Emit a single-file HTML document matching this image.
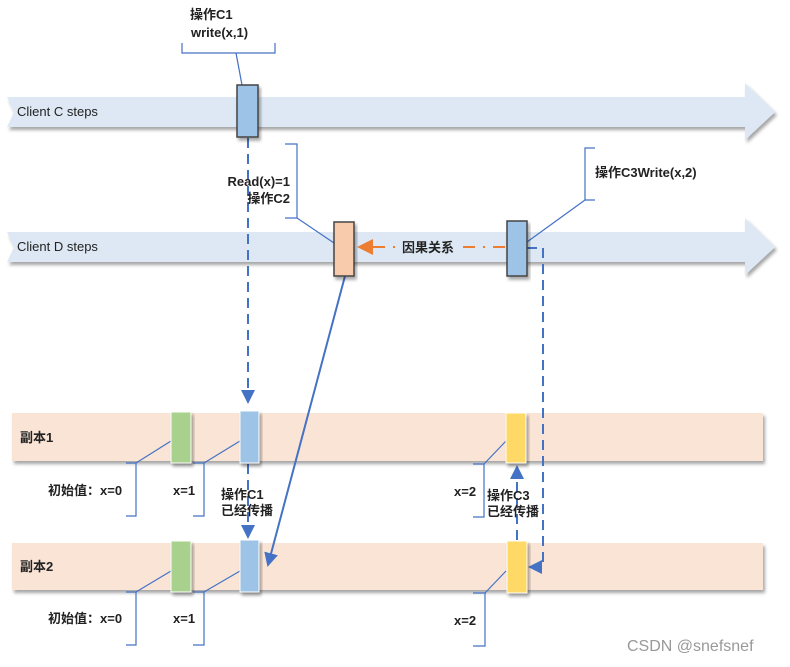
<!DOCTYPE html>
<html><head><meta charset="utf-8"><style>
body{margin:0;background:#fff;}
svg text{font-family:"Liberation Sans","Noto Sans CJK SC",sans-serif;}
</style></head><body>
<svg width="790" height="662" viewBox="0 0 790 662" xmlns="http://www.w3.org/2000/svg">
<defs>
<filter id="sh" x="-10%" y="-20%" width="130%" height="160%"><feDropShadow dx="2" dy="3" stdDeviation="1.5" flood-color="#000" flood-opacity="0.35"/></filter>
<marker id="ab" markerWidth="14" markerHeight="14" refX="12" refY="7" orient="auto" markerUnits="userSpaceOnUse" viewBox="0 0 14 14"><path d="M0,0 L14,7 L0,14z" fill="#4472c4"/></marker>
</defs>
<path d="M7,97 L745,97 L745,83 L775,112 L745,140 L745,127 L7,127 L14,112z" fill="#dde8f4" filter="url(#sh)"/>
<path d="M7,232 L745,232 L745,218 L775,247 L745,275 L745,262 L7,262 L14,247z" fill="#dde8f4" filter="url(#sh)"/>
<text x="17" y="116" font-size="13" fill="#222">Client C steps</text>
<text x="17" y="251" font-size="13" fill="#222">Client D steps</text>
<rect x="12" y="413" width="751" height="48" fill="#f9e4d6" filter="url(#sh)"/>
<rect x="12" y="543" width="751" height="47" fill="#f9e4d6" filter="url(#sh)"/>
<text x="20" y="442" font-size="13" font-weight="bold" fill="#222">副本1</text>
<text x="20" y="571" font-size="13" font-weight="bold" fill="#222">副本2</text>
<g stroke="#4472c4" fill="none" stroke-width="1.2">
<path d="M182,43 V53 H275 V43"/><path d="M236,53 L242,85"/>
<path d="M285,144 H297 V218 H285"/><path d="M297,218 L334,243"/>
<path d="M595,148 H585 V200 H595"/><path d="M585,200 L527,242"/>
<path d="M126,463 H136 V516 H126"/><path d="M136,463 L171,441"/>
<path d="M193,463 H204 V516 H193"/><path d="M204,463 L240,441"/>
<path d="M473,464 H484 V517 H473"/><path d="M484,464 L506,441"/>
<path d="M126,592 H136 V645 H126"/><path d="M136,592 L171,571"/>
<path d="M193,592 H204 V645 H193"/><path d="M204,592 L240,571"/>
<path d="M473,593 H485 V646 H473"/><path d="M485,593 L506,571"/>
</g>
<g stroke="#4472c4" stroke-width="2" fill="none" stroke-dasharray="10,6">
<path d="M248,138 V402" marker-end="url(#ab)"/>
<path d="M248,464 V537" marker-end="url(#ab)"/>
<path d="M527,248 H543 V567 H530" marker-end="url(#ab)"/>
<path d="M517,540 V467" marker-end="url(#ab)"/>
</g>
<path d="M345,276 L268,565" stroke="#4472c4" stroke-width="2" marker-end="url(#ab)"/>
<path d="M505,247 H372" stroke="#ed7d31" stroke-width="2" stroke-dasharray="12,8,2,8"/>
<path d="M357,247 L373,239 L373,255z" fill="#ed7d31"/>
<rect x="400" y="239" width="60" height="16" fill="#dde8f4"/>
<text x="402" y="252" font-size="13" font-weight="bold" fill="#222">因果关系</text>
<rect x="237" y="85" width="21" height="52" fill="#9dc3e6" stroke="#444" stroke-width="1.5" filter="url(#sh)"/>
<rect x="334" y="222" width="20" height="54" fill="#f8cbad" stroke="#444" stroke-width="1.5" filter="url(#sh)"/>
<rect x="507" y="221" width="20" height="55" fill="#9dc3e6" stroke="#444" stroke-width="1.5" filter="url(#sh)"/>
<rect x="171" y="412" width="20" height="51" fill="#a9d18e" stroke="#fff" filter="url(#sh)"/>
<rect x="240" y="411" width="19" height="52" fill="#9dc3e6" stroke="#fff" filter="url(#sh)"/>
<rect x="506" y="413" width="20" height="50" fill="#ffd966" stroke="#fff" filter="url(#sh)"/>
<rect x="171" y="541" width="20" height="51" fill="#a9d18e" stroke="#fff" filter="url(#sh)"/>
<rect x="240" y="540" width="19" height="52" fill="#9dc3e6" stroke="#fff" filter="url(#sh)"/>
<rect x="507" y="541" width="20" height="52" fill="#ffd966" stroke="#fff" filter="url(#sh)"/>
<g font-size="13" font-weight="bold" fill="#222">
<text x="190" y="19">操作C1</text>
<text x="191" y="37">write(x,1)</text>
<text x="290" y="186" text-anchor="end">Read(x)=1</text>
<text x="290" y="203" text-anchor="end">操作C2</text>
<text x="595" y="177">操作C3Write(x,2)</text>
<text x="48" y="495">初始值：x=0</text>
<text x="173" y="495">x=1</text>
<text x="221" y="499">操作C1</text>
<text x="221" y="515">已经传播</text>
<text x="454" y="496">x=2</text>
<text x="487" y="500">操作C3</text>
<text x="487" y="516">已经传播</text>
<text x="48" y="623">初始值：x=0</text>
<text x="173" y="623">x=1</text>
<text x="454" y="625">x=2</text>
</g>
<text x="627" y="651" font-size="16" fill="#999">CSDN @snefsnef</text>
</svg>
</body></html>
